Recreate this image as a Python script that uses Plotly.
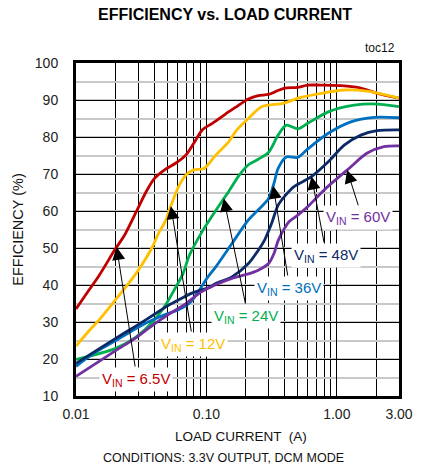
import numpy as np
import plotly.graph_objects as go

# ---------------- data ----------------
x_65 = [0.01, 0.0125, 0.015, 0.02, 0.0236, 0.029, 0.0345, 0.04, 0.049, 0.058, 0.0695, 0.080, 0.093,
        0.111, 0.14, 0.167, 0.21, 0.25, 0.30, 0.35, 0.40, 0.50, 0.60, 0.80, 1.14, 1.53, 2.04, 3.0]
y_65 = [33.5, 38.5, 42.5, 49.7, 53.5, 59.8, 65.2, 68.8, 71.4, 72.9, 75.1, 78.3, 81.9,
        83.7, 86.2, 88.0, 90.3, 91.2, 91.5, 92.5, 93.2, 93.4, 94.0, 94.0, 93.8, 93.2, 91.8, 90.5]

x_12 = [0.01, 0.0125, 0.015, 0.02, 0.029, 0.0387, 0.0423, 0.049, 0.052, 0.062, 0.07, 0.080, 0.096,
        0.118, 0.148, 0.171, 0.21, 0.265, 0.39, 0.505, 0.76, 1.14, 1.7, 3.0]
y_12 = [23.5, 27.5, 30.5, 35.9, 43.2, 50.4, 53.5, 57.6, 60.3, 67.0, 69.8, 71.1, 71.5,
        75.1, 78.7, 81.9, 85.0, 88.2, 89.1, 90.5, 91.8, 92.7, 92.4, 90.5]

x_24 = [0.01, 0.0121, 0.02, 0.029, 0.0387, 0.049, 0.058, 0.066, 0.074, 0.093, 0.11, 0.135, 0.148,
        0.177, 0.21, 0.25, 0.299, 0.355, 0.41, 0.505, 0.6, 0.86, 1.36, 2.04, 3.0]
y_24 = [19.9, 20.6, 22.8, 26.0, 30.0, 34.8, 39.3, 43.0, 48.0, 54.5, 58.5, 63.2, 65.2,
        69.5, 72.5, 74.0, 75.8, 80.5, 83.2, 82.2, 83.7, 86.8, 88.6, 88.9, 88.2]

x_36 = [0.01, 0.0137, 0.02, 0.03, 0.04, 0.05, 0.06, 0.075, 0.088, 0.1, 0.118, 0.157, 0.21,
        0.3, 0.33, 0.355, 0.41, 0.5, 0.6, 0.86, 1.28, 1.94, 3.0]
y_36 = [18.0, 21.6, 24.9, 28.6, 30.8, 32.2, 33.2, 35.3, 38.5, 41.6, 44.9, 51.2, 57.6,
        63.4, 67.5, 71.5, 74.6, 74.5, 76.8, 81.0, 84.1, 85.3, 85.2]

x_48 = [0.01, 0.02, 0.03, 0.04, 0.05, 0.06, 0.075, 0.088, 0.105, 0.118, 0.157, 0.21, 0.25, 0.28,
        0.316, 0.355, 0.41, 0.47, 0.635, 0.86, 1.14, 1.53, 2.04, 3.0]
y_48 = [18.8, 25.5, 29.3, 32.1, 34.3, 35.8, 37.6, 38.5, 39.3, 40.4, 42.2, 45.8, 49.4, 52.2,
        56.6, 61.6, 64.5, 66.6, 69.2, 73.3, 77.8, 80.5, 81.7, 81.9]

x_60 = [0.01, 0.02, 0.029, 0.04, 0.05, 0.07, 0.09, 0.12, 0.157, 0.21, 0.25, 0.3, 0.33, 0.355,
        0.4, 0.43, 0.5, 0.6, 0.8, 1.24, 1.7, 2.3, 3.0]
y_60 = [15.3, 22.2, 25.8, 29.5, 31.8, 35.0, 38.0, 40.2, 41.8, 43.0, 44.0, 45.8, 48.5, 52.0,
        55.5, 57.1, 58.8, 61.2, 65.7, 71.5, 75.6, 77.4, 77.6]

series_names = ["6.5V", "12V", "24V", "36V", "48V", "60V"]
series_x = [x_65, x_12, x_24, x_36, x_48, x_60]
series_y = [y_65, y_12, y_24, y_36, y_48, y_60]
colors = ["#c00000", "#ffc000", "#00b050", "#0070c0", "#0c2a66", "#7030a0"]

# load current where each label's arrow touches its curve
arrow_x = [0.0205, 0.0534, 0.136, 0.325, 0.64, 1.2]

x_grid = [0.01, 0.02, 0.03, 0.04, 0.05, 0.06, 0.07, 0.08, 0.09,
          0.1, 0.2, 0.3, 0.4, 0.5, 0.6, 0.7, 0.8, 0.9, 1, 2, 3]
x_tickvals = [0.01, 0.1, 1, 3]
x_ticktext = ["0.01", "0.10", "1.00", "3.00"]
y_ticks = [10, 20, 30, 40, 50, 60, 70, 80, 90, 100]

# ---------------- layout geometry ----------------
W, H = 425, 470
L, R, T, B = 76, 404, 63, 396
XMIN, XMAX = -2, np.log10(3)

def to_px(xv):
    return L + (np.log10(xv) - XMIN) / (XMAX - XMIN) * (R - L)

def to_py(yv):
    return T + (100 - yv) / 90 * (B - T)

def paper_x(px):
    return (px - L) / (R - L)

def paper_y(py):
    return (B - py) / (B - T)

# label centres and arrow tail points (pixels)
label_centers = [(137, 379), (195, 344), (249, 316), (292, 288), (330, 255), (362, 218)]
arrow_tails = [(136, 368), (193, 333), (248, 305), (291, 277), (328, 244), (363, 207)]

FONT = "Liberation Sans, Arial, sans-serif"

fig = go.Figure()
for name, xs, ys, c in zip(series_names, series_x, series_y, colors):
    fig.add_trace(go.Scatter(x=xs, y=ys, mode="lines", name=name,
                             line=dict(color=c, width=2.8, shape="spline", smoothing=0.8),
                             showlegend=False, hoverinfo="skip"))

# arrows first (empty text so the tail sits exactly at ax/ay)
for xs, ys, ax_, (tx, ty) in zip(series_x, series_y, arrow_x, arrow_tails):
    hy = float(np.interp(np.log10(ax_), np.log10(xs), ys))
    fig.add_annotation(x=float(np.log10(ax_)), y=hy, xref="x", yref="y",
                       ax=float(tx - to_px(ax_)), ay=float(ty - to_py(hy)),
                       text="", showarrow=True, arrowhead=2, arrowsize=2.6, arrowwidth=1,
                       arrowcolor="black")

# labels on top, with white background
for name, c, (lx, ly) in zip(series_names, colors, label_centers):
    fig.add_annotation(x=paper_x(lx), y=paper_y(ly), xref="paper", yref="paper",
                       xanchor="center", yanchor="middle", showarrow=False,
                       text="V<sub>IN</sub> = " + name,
                       font=dict(family=FONT, size=15, color=c),
                       bgcolor="white", borderpad=2)

fig.add_annotation(x=paper_x(244), y=paper_y(436), xref="paper", yref="paper",
                   text="LOAD CURRENT  (A)", showarrow=False,
                   font=dict(family=FONT, size=13.5, color="#111"), xanchor="center", yanchor="middle")
fig.add_annotation(x=paper_x(226), y=paper_y(458), xref="paper", yref="paper",
                   text="CONDITIONS: 3.3V OUTPUT, DCM MODE", showarrow=False,
                   font=dict(family=FONT, size=12.5, color="#111"), xanchor="center", yanchor="middle")
fig.add_annotation(x=paper_x(402), y=paper_y(48), xref="paper", yref="paper",
                   text="toc12", showarrow=False,
                   font=dict(family=FONT, size=12, color="#111"), xanchor="right", yanchor="middle")

fig.update_layout(
    width=W, height=H, autosize=False,
    margin=dict(l=L, r=W - R, t=T, b=H - B, pad=0),
    paper_bgcolor="white", plot_bgcolor="white",
    title=dict(text="<b>EFFICIENCY vs. LOAD CURRENT</b>", x=225 / W, xanchor="center",
               y=1 - 14 / H, yanchor="middle", yref="container",
               font=dict(family=FONT, size=16, color="black")),
    xaxis=dict(type="log", range=[XMIN, XMAX], tickmode="array",
               tickvals=x_tickvals, ticktext=x_ticktext,
               showgrid=True, gridcolor="black", gridwidth=1,
               minor=dict(tickmode="array", tickvals=x_grid, showgrid=True,
                          gridcolor="black", gridwidth=1, ticks=""),
               showline=True, linecolor="black", linewidth=3, mirror=True,
               ticks="", zeroline=False, ticklabelstandoff=3,
               tickfont=dict(family=FONT, size=14, color="#222")),
    yaxis=dict(range=[10, 100], tickvals=y_ticks,
               showgrid=True, gridcolor="black", gridwidth=1,
               minor=dict(dtick=5, showgrid=True, gridcolor="#c8c8c8", gridwidth=2, ticks=""),
               showline=True, linecolor="black", linewidth=3, mirror=True,
               ticks="", zeroline=False, ticklabelstandoff=12,
               tickfont=dict(family=FONT, size=14, color="#222"),
               title=dict(text="EFFICIENCY (%)", standoff=8,
                          font=dict(family=FONT, size=14.5, color="#111"))),
)

fig.write_html("out.html", config={"displayModeBar": False},
               post_script="document.body.style.margin='0';")
